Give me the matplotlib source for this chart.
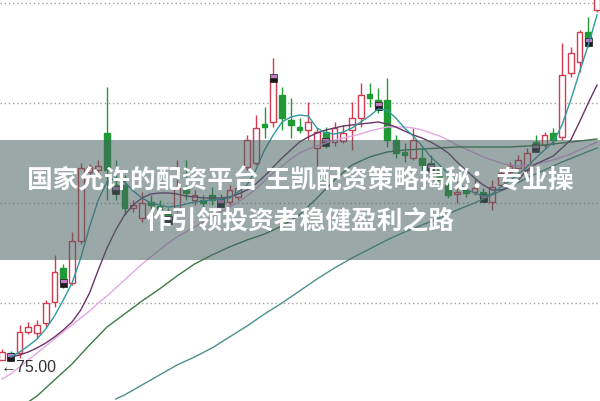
import matplotlib
matplotlib.use("Agg")
import matplotlib.pyplot as plt
import numpy as np
from matplotlib.patches import Rectangle

# ---- data (price units) ----
opens = [75.1, 75.8, 75.8, 77.9, 77.8, 78.8, 80.9, 84.3, 82.8, 87.0,
         93.9, 94.1, 97.8, 92.6, 92.6, 90.3, 89.3, 90.9, 90.5, 89.7,
         90.3, 92.3, 91.1, 91.1, 91.6, 91.2, 90.9, 91.4, 94.4, 94.8,
         98.7, 98.9, 101.6, 99.1, 98.4, 98.1, 96.3, 97.9, 96.9, 97.0,
         98.1, 99.3, 101.7, 101.1, 101.1, 97.1, 95.9, 95.3, 95.3, 94.8,
         94.3, 92.6, 91.7, 92.1, 91.9, 91.9, 90.9, 92.6, 93.9, 94.3,
         94.1, 96.9, 96.6, 97.8, 97.4, 103.8, 104.9, 107.9, 110.1]
highs = [76.2, 76.0, 78.6, 78.9, 79.1, 81.1, 85.6, 84.7, 87.9, 94.8,
         94.7, 95.1, 102.4, 95.1, 93.6, 91.1, 91.9, 91.6, 91.1, 90.3,
         95.1, 95.1, 92.1, 91.6, 92.4, 91.7, 92.6, 92.9, 97.6, 99.6,
         100.4, 105.3, 102.4, 101.3, 99.3, 100.9, 98.3, 98.4, 98.9, 98.6,
         100.9, 102.8, 102.8, 102.3, 103.3, 97.6, 96.8, 98.3, 96.4, 95.6,
         94.6, 93.6, 92.8, 92.6, 93.3, 92.3, 93.1, 94.1, 94.9, 95.6,
         96.3, 97.6, 97.9, 98.3, 106.8, 106.4, 108.1, 109.4, 112.1]
lows = [75.1, 75.0, 75.3, 77.7, 77.3, 78.4, 80.4, 82.3, 82.6, 86.7,
        93.5, 93.3, 91.1, 91.1, 89.6, 89.9, 88.9, 90.1, 89.9, 88.7,
        89.9, 91.1, 90.6, 90.4, 90.6, 90.4, 90.6, 91.1, 94.1, 94.6,
        97.3, 98.4, 98.1, 97.3, 97.8, 97.1, 94.4, 96.3, 96.5, 96.8,
        96.1, 98.4, 100.4, 99.8, 96.4, 95.3, 94.9, 95.1, 94.1, 93.9,
        92.6, 91.3, 90.8, 91.4, 91.6, 91.1, 90.1, 92.4, 93.5, 93.9,
        93.9, 95.9, 96.3, 96.6, 97.1, 103.4, 103.9, 106.4, 109.9]
closes = [75.9, 75.4, 77.9, 78.4, 78.6, 80.8, 83.9, 82.8, 87.0, 94.3,
          94.4, 94.5, 94.1, 92.1, 90.3, 90.6, 90.8, 90.6, 90.2, 89.1,
          92.3, 91.8, 91.6, 90.8, 91.1, 90.8, 92.1, 92.3, 97.1, 98.3,
          98.4, 103.3, 99.3, 98.6, 98.1, 98.9, 97.9, 96.9, 98.3, 97.8,
          99.3, 101.6, 101.3, 100.5, 97.1, 95.8, 95.6, 97.1, 94.6, 94.3,
          93.1, 91.6, 91.9, 91.8, 92.3, 91.3, 92.4, 93.8, 94.5, 95.1,
          95.8, 96.3, 97.6, 97.1, 103.6, 105.8, 107.9, 106.9, 111.6]

ma5 = [np.nan, 75.4, 75.9, 76.5, 77.2, 78.2, 79.5, 81.1, 82.8, 85.3, 88.4,
       91.1, 92.9, 93.3, 92.9, 92.0, 91.3, 90.8, 90.6, 90.4, 90.5,
       90.7, 90.9, 91.0, 91.1, 91.2, 91.3, 91.9, 92.6, 94.1, 96.1,
       97.6, 98.9, 99.4, 99.6, 99.5, 98.3, 97.8, 97.7, 97.9, 98.3,
       98.9, 99.5, 100.2, 100.1, 99.3, 98.3, 97.5, 96.5, 95.4, 94.6,
       93.7, 92.9, 92.2, 91.8, 91.5, 91.7, 92.4, 93.0, 93.7, 94.4,
       95.3, 96.1, 96.9, 98.6, 101.1, 103.9, 106.6, 109.6]
ma10 = [np.nan, 75.4, 75.6, 75.9, 76.3, 76.8, 77.4, 78.1, 78.9, 80.1, 81.8,
        84.1, 86.3, 88.1, 89.6, 90.6, 91.3, 91.7, 91.8, 91.8, 91.7,
        91.5, 91.4, 91.3, 91.3, 91.3, 91.4, 91.7, 92.1, 92.7, 93.5,
        94.4, 95.3, 96.1, 96.9, 97.4, 97.8, 98.1, 98.3, 98.5, 98.6,
        98.7, 98.8, 98.9, 98.7, 98.4, 98.0, 97.6, 97.3, 96.9, 96.4,
        95.8, 94.9, 94.1, 93.3, 92.6, 92.1, 92.1, 92.4, 93.1, 94.1,
        94.7, 95.1, 95.5, 96.3, 97.1, 98.9, 100.8, 102.6]
ma20 = [73.2, 73.7, 74.4, 75.1, 75.8, 76.5, 77.2, 77.9, 78.6, 79.3,
        80.0, 80.8, 81.5, 82.3, 83.1, 83.9, 84.7, 85.4, 86.1, 86.8,
        87.4, 87.9, 88.4, 88.9, 89.4, 89.9, 90.4, 90.9, 91.5, 92.2,
        93.0, 93.8, 94.5, 95.2, 95.8, 96.2, 96.5, 96.8, 97.1, 97.3,
        97.5, 97.7, 98.0, 98.2, 98.4, 98.4, 98.4, 98.3, 98.1, 97.8,
        97.5, 97.1, 96.6, 96.2, 95.8, 95.4, 95.1, 94.8, 94.6, 94.5,
        94.6, 94.7, 94.9, 95.1, 95.4, 95.7, 96.1, 96.5, 96.9]
ma60_idx = [3, 4, 6, 8, 10, 12, 14, 16, 18, 20, 22, 24, 26, 28, 30, 32, 34, 36,
            38, 40, 42, 44, 46, 48, 50, 52, 54, 56, 58, 60, 62, 64, 66, 68]
ma60 = [70.9, 71.5, 73.1, 74.7, 76.6, 78.4, 79.7, 81.0, 82.2, 83.5, 84.7, 85.6,
        86.4, 87.1, 87.7, 88.5, 89.6, 91.3, 93.1, 94.6, 95.4, 95.9, 96.1, 96.2,
        96.3, 96.4, 96.4, 96.4, 96.4, 96.5, 96.6, 96.8, 97.0, 97.2]
ma120_idx = [13, 14, 16, 18, 20, 22, 24, 26, 28, 30, 32, 34, 36, 38, 40, 42, 44,
             46, 48, 50, 52, 54, 56, 58, 60, 62, 64, 66, 68]
ma120 = [71.2, 71.6, 72.6, 73.6, 74.6, 75.4, 76.3, 77.4, 78.5, 79.7, 80.8, 82.0,
         83.2, 84.3, 85.3, 86.2, 87.1, 87.9, 88.6, 89.3, 90.1, 90.8, 91.6, 92.4,
         93.3, 94.1, 94.9, 95.6, 96.3]
marker_idx = [1, 7, 13, 19, 25, 31, 37, 43, 49, 55, 61, 67]
grid_levels = [80.83, 90.83, 100.83, 110.83]
low_label = "75.00"
title_line1 = "国家允许的配资平台 王凯配资策略揭秘：专业操"
title_line2 = "作引领投资者稳健盈利之路"

# ---- figure ----
fig = plt.figure(figsize=(6.0, 4.01), dpi=100)
ax = fig.add_axes([0, 0, 1, 1])
ax.set_xlim(-0.229, 68.34)
ax.set_ylim(71.0, 111.1)
ax.axis("off")

for g in grid_levels:
    ax.axhline(g, color="#a0a0a0", lw=1.0, ls=(0, (1, 2)), zorder=1)

n = len(closes)
x = np.arange(n)
o = np.array(opens); c = np.array(closes); h = np.array(highs); l = np.array(lows)
up = c >= o
red = "#d23c4e"
green = "#1f9a35"
w = 0.68

cols = np.where(up, red, green)
ax.vlines(x, l, h, colors=cols, lw=1.0, zorder=2)
bot = np.minimum(o, c)
hgt = np.maximum(np.abs(c - o), 0.12)
ax.bar(x[up], hgt[up], bottom=bot[up], width=w, facecolor="white",
       edgecolor=red, linewidth=1.0, zorder=3)
ax.bar(x[~up], hgt[~up], bottom=bot[~up], width=w, facecolor=green,
       edgecolor=green, linewidth=1.0, zorder=3)

# special markers
mi = np.array(marker_idx)
ax.bar(mi, 0.4, bottom=c[mi] - 0.4, width=0.75, facecolor="#1a1a1a",
       edgecolor="#1a1a1a", lw=0.5, zorder=4)
ax.bar(mi, 0.4, bottom=c[mi], width=0.75, facecolor="#c77ac7",
       edgecolor="#1a1a1a", lw=0.5, zorder=4)

ax.plot(x, ma20, color="#e4a6e6", lw=1.0, zorder=5)
ax.plot(ma120_idx, ma120, color="#4e8f8c", lw=1.0, zorder=5)
ax.plot(ma60_idx, ma60, color="#3c7a46", lw=1.0, zorder=5)
ax.plot(x, ma10, color="#6a3468", lw=1.0, zorder=5)
ax.plot(x, ma5, color="#2f9aa0", lw=1.0, zorder=5)

# lowest price label
ax.annotate("←" + low_label, xy=(-0.2, 74.3), xycoords="data",
            fontsize=11.5, color="#333333", va="center", ha="left",
            family=["Liberation Sans", "DejaVu Sans"], zorder=6)

# banner
fig.patches.append(Rectangle((0, 1 - 260 / 401), 1, 120 / 401,
                             transform=fig.transFigure, facecolor="#4a6262",
                             alpha=0.55, edgecolor="none", zorder=10))
fig.text(0.5, 1 - 181 / 401, title_line1, ha="center", va="center",
         fontsize=18.5, fontweight="bold", color="white",
         family=["Noto Sans CJK SC", "DejaVu Sans"], zorder=11)
fig.text(0.5, 1 - 221 / 401, title_line2, ha="center", va="center",
         fontsize=18.5, fontweight="bold", color="white",
         family=["Noto Sans CJK SC", "DejaVu Sans"], zorder=11)

fig.savefig("out.png", dpi=100)
